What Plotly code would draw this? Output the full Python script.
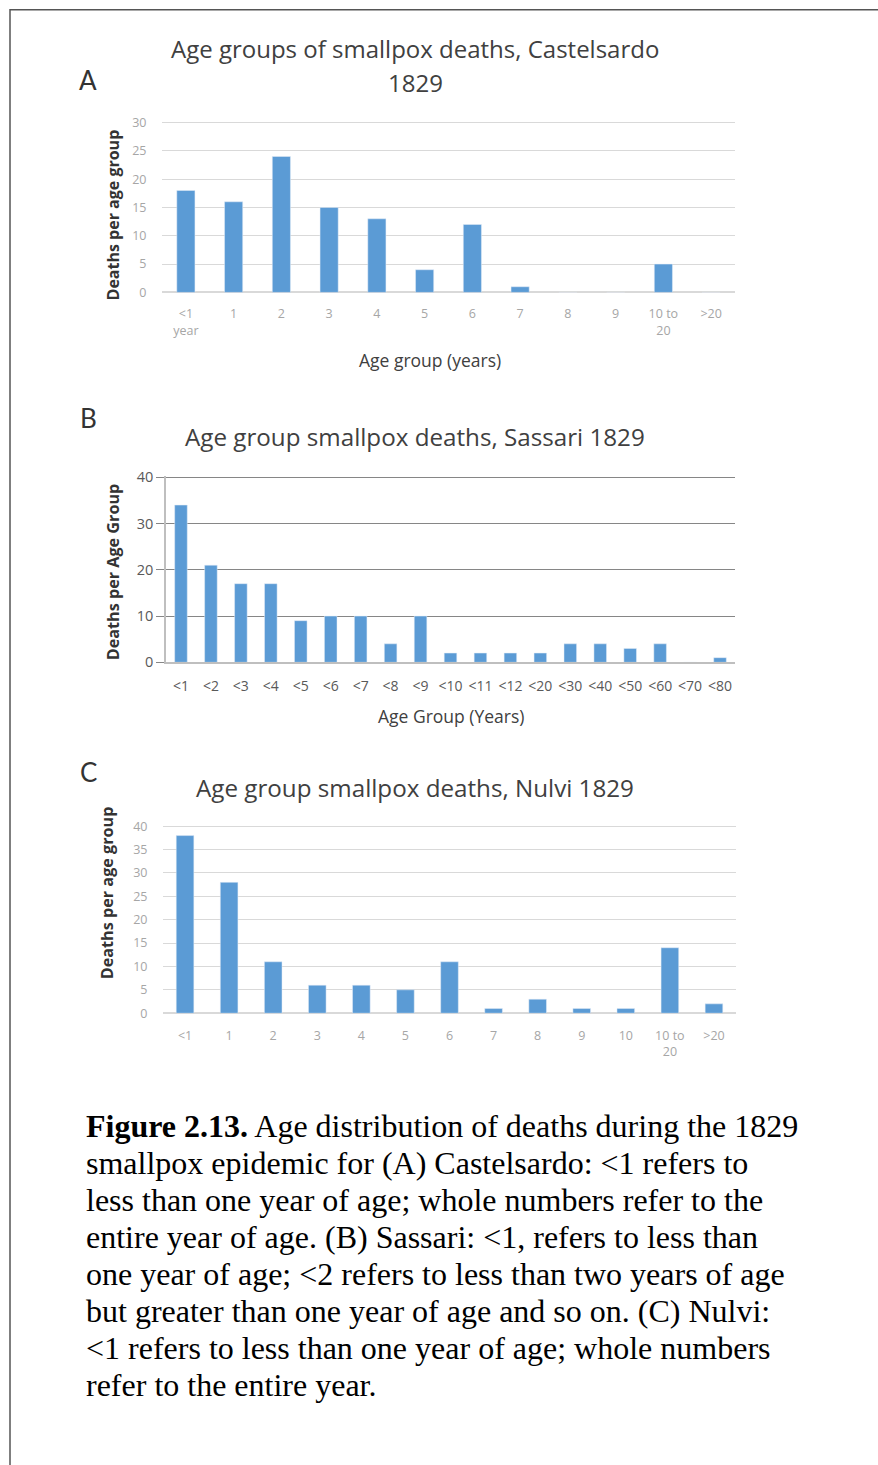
import plotly.graph_objects as go

W, H = 878, 1465

# ---------------- data ----------------
a_categories = ["<1 year", "1", "2", "3", "4", "5", "6", "7", "8", "9", "10 to 20", ">20"]
a_values = [18, 16, 24, 15, 13, 4, 12, 1, 0, 0, 5, 0]

b_categories = ["<1", "<2", "<3", "<4", "<5", "<6", "<7", "<8", "<9", "<10", "<11", "<12",
                "<20", "<30", "<40", "<50", "<60", "<70", "<80"]
b_values = [34, 21, 17, 17, 9, 10, 10, 4, 10, 2, 2, 2, 2, 4, 4, 3, 4, 0, 1]

c_categories = ["<1", "1", "2", "3", "4", "5", "6", "7", "8", "9", "10", "10 to 20", ">20"]
c_values = [38, 28, 11, 6, 6, 5, 11, 1, 3, 1, 1, 14, 2]

a_yticks = [0, 5, 10, 15, 20, 25, 30]
b_yticks = [0, 10, 20, 30, 40]
c_yticks = [0, 5, 10, 15, 20, 25, 30, 35, 40]

caption_lines = [
    "<b>Figure 2.13.</b> Age distribution of deaths during the 1829",
    "smallpox epidemic for (A) Castelsardo: &lt;1 refers to",
    "less than one year of age; whole numbers refer to the",
    "entire year of age. (B) Sassari: &lt;1, refers to less than",
    "one year of age; &lt;2 refers to less than two years of age",
    "but greater than one year of age and so on. (C) Nulvi:",
    "&lt;1 refers to less than one year of age; whole numbers",
    "refer to the entire year.",
]

BAR = "#5b9bd5"
FONT = "Open Sans"

# vertical calibration of the rendered page (observed offset/scale)
Y_OFF, Y_SCALE = 8.5, 0.988


def px(x):
    return x / W


def py(y):
    yp = (y - Y_OFF) / Y_SCALE
    return 1 - yp / H


def label(c):
    s = c.replace("<", "&lt;").replace(">", "&gt;")
    s = s.replace(" year", "<br>year").replace("10 to 20", "10 to<br>20")
    return s


fig = go.Figure()
fig.add_trace(go.Bar(x=a_categories, y=a_values, marker_color=BAR, width=0.38,
                     xaxis="x", yaxis="y"))
fig.add_trace(go.Bar(x=b_categories, y=b_values, marker_color=BAR, width=0.42,
                     xaxis="x2", yaxis="y2"))
fig.add_trace(go.Bar(x=c_categories, y=c_values, marker_color=BAR, width=0.4,
                     xaxis="x3", yaxis="y3"))

light_tick = dict(family=FONT, size=12.5, color="#a6a6a6")

fig.update_layout(
    width=W, height=H,
    margin=dict(l=0, r=0, t=0, b=0),
    paper_bgcolor="white", plot_bgcolor="white",
    showlegend=False, hovermode=False,
    # Panel A
    xaxis=dict(domain=[px(162), px(735)], anchor="y", type="category",
               tickvals=a_categories, ticktext=[label(c) for c in a_categories],
               tickfont=light_tick, ticks="outside", ticklen=10,
               tickcolor="rgba(0,0,0,0)", showgrid=False, showline=False),
    yaxis=dict(domain=[py(292), py(120.9)], anchor="x", range=[0, 30.2],
               tickvals=a_yticks, tickfont=light_tick, ticks="outside", ticklen=12,
               tickcolor="rgba(0,0,0,0)", showgrid=True, gridcolor="#d9d9d9",
               gridwidth=1, zeroline=True, zerolinecolor="#d9d9d9", showline=False),
    # Panel B
    xaxis2=dict(domain=[px(166), px(735)], anchor="y2", type="category",
                tickvals=b_categories, ticktext=[label(c) for c in b_categories],
                tickfont=dict(family=FONT, size=14, color="#595959"),
                ticks="outside", ticklen=10, tickcolor="rgba(0,0,0,0)",
                showgrid=False, showline=True, linecolor="#bfbfbf", linewidth=2),
    yaxis2=dict(domain=[py(662), py(475.8)], anchor="x2", range=[0, 40.25],
                tickvals=b_yticks, tickfont=dict(family=FONT, size=14.5, color="#595959"),
                ticks="outside", ticklen=8, tickcolor="#868686",
                showgrid=True, gridcolor="#868686", gridwidth=1,
                zeroline=False, showline=True, linecolor="#bfbfbf", linewidth=1.5),
    # Panel C
    xaxis3=dict(domain=[px(163), px(736)], anchor="y3", type="category",
                tickvals=c_categories, ticktext=[label(c) for c in c_categories],
                tickfont=light_tick, ticks="outside", ticklen=11,
                tickcolor="rgba(0,0,0,0)", showgrid=False, showline=False),
    yaxis3=dict(domain=[py(1013), py(824.8)], anchor="x3", range=[0, 40.25],
                tickvals=c_yticks, tickfont=light_tick, ticks="outside", ticklen=12,
                tickcolor="rgba(0,0,0,0)", showgrid=True, gridcolor="#d9d9d9",
                gridwidth=1, zeroline=True, zerolinecolor="#d9d9d9", showline=False),
)

# page border (left and top edges visible)
fig.add_shape(type="rect", xref="paper", yref="paper",
              x0=px(10), x1=1.05, y0=-0.05, y1=1 - 0.8 / H,
              line=dict(color="#555555", width=1.5), fillcolor="rgba(0,0,0,0)")


def ann(text, x, y, size, color="#333333", family=FONT, angle=0, xanchor="center",
        yanchor="middle", align="center"):
    fig.add_annotation(text=text, x=px(x), y=py(y), xref="paper", yref="paper",
                       showarrow=False, textangle=angle, xanchor=xanchor,
                       yanchor=yanchor, align=align,
                       font=dict(family=family, size=size, color=color))


# titles
TCOL = "#404040"
ann("Age groups of smallpox deaths, Castelsardo", 415, 48, 24, TCOL)
ann("1829", 415, 82, 24, TCOL)
ann("Age group smallpox deaths, Sassari 1829", 415, 436, 24.2, TCOL)
ann("Age group smallpox deaths, Nulvi 1829", 415, 787, 24.2, TCOL)

# panel letters
ann("A", 88, 80, 26, "#333333", family="Lato")
ann("B", 88, 418, 26, "#333333", family="Lato")
ann("C", 88, 772, 26, "#333333", family="Lato")

# axis titles
ann("<b>Deaths per age group</b>", 113, 215, 16, "#333333", angle=-90)
ann("<b>Deaths per Age Group</b>", 113, 572, 16.2, "#333333", angle=-90)
ann("<b>Deaths per age group</b>", 107, 893, 16.2, "#333333", angle=-90)
ann("Age group (years)", 430, 360, 17.5, "#404040")
ann("Age Group (Years)", 451, 716, 17.5, "#404040")

# caption, one line per annotation (tight line spacing)
for i, line in enumerate(caption_lines):
    ann(line, 84, 1126 + 37 * i, 32, "#000000", family="Liberation Serif",
        xanchor="left", yanchor="middle", align="left")

fig.write_html("out.html")
